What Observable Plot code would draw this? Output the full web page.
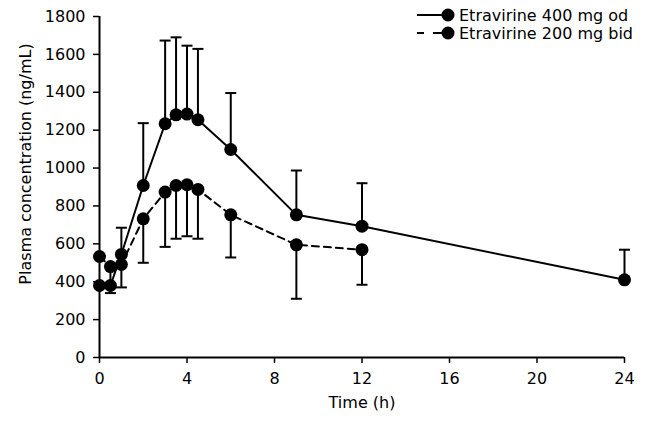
<!DOCTYPE html>
<html>
<head>
<meta charset="utf-8">
<script src="https://cdn.jsdelivr.net/npm/d3@7"></script>
<script src="https://cdn.jsdelivr.net/npm/@observablehq/plot@0.6"></script>
<style>
  body { margin: 0; background: #fff; }
  #wrap { position: relative; width: 646px; height: 421px; font-family: "DejaVu Sans", sans-serif; }
  #legend { position: absolute; left: 410px; top: 0; }
</style>
</head>
<body>
<div id="wrap"></div>
<script>
// ---- data ----
const seriesNames = ["Etravirine 400 mg od", "Etravirine 200 mg bid"];

const times400 = [0, 0.5, 1, 2, 3, 3.5, 4, 4.5, 6, 9, 12, 24];
const conc400 = [380, 380, 544, 908, 1234, 1281, 1285, 1255, 1098, 753, 693, 410];
const upper400 = [null, null, 685, 1237, 1673, 1690, 1646, 1629, 1396, 987, 920, 569];

const times200 = [0, 0.5, 1, 2, 3, 3.5, 4, 4.5, 6, 9, 12];
const conc200 = [533, 480, 491, 732, 873, 908, 912, 887, 753, 595, 569];
const lower200 = [null, 340, 370, 500, 584, 627, 640, 627, 528, 310, 384];

const xTicks = [0, 4, 8, 12, 16, 20, 24];
const yTicks = [0, 200, 400, 600, 800, 1000, 1200, 1400, 1600, 1800];
const xLabel = "Time (h)";
const yLabel = "Plasma concentration (ng/mL)";

// ---- build tables ----
const d400 = times400.map((t, i) => ({t, c: conc400[i], e: upper400[i]}));
const d200 = times200.map((t, i) => ({t, c: conc200[i], e: lower200[i]}));
const e400 = d400.filter(d => d.e != null);
const e200 = d200.filter(d => d.e != null);

const capSymbol = {
  draw(ctx, size) {
    const w = Math.sqrt(size / Math.PI);
    ctx.moveTo(-w, 0);
    ctx.lineTo(w, 0);
  }
};

const chart = Plot.plot({
  width: 646,
  height: 421,
  marginLeft: 99,
  marginRight: 22,
  marginTop: 16,
  marginBottom: 64,
  style: {fontFamily: "DejaVu Sans, sans-serif", fontSize: "16px", color: "#000", background: "#fff"},
  x: {domain: [0, 24]},
  y: {domain: [0, 1800]},
  marks: [
    Plot.axisX({ticks: xTicks, tickFormat: d => String(d), tickSize: 6, tickPadding: 9, label: null, strokeWidth: 1.5}),
    Plot.axisY({ticks: yTicks, tickFormat: d => String(d), tickSize: 6, tickPadding: 8, label: null, strokeWidth: 1.5}),
    Plot.ruleY([0], {strokeWidth: 2}),
    Plot.ruleX([0], {strokeWidth: 2}),
    // error bars
    Plot.ruleX(e400, {x: "t", y1: "c", y2: "e", strokeWidth: 2}),
    Plot.ruleX(e200, {x: "t", y1: "c", y2: "e", strokeWidth: 2}),
    Plot.dot(e400, {x: "t", y: "e", symbol: capSymbol, r: 5.5, stroke: "#000", fill: "none", strokeWidth: 2}),
    Plot.dot(e200, {x: "t", y: "e", symbol: capSymbol, r: 5.5, stroke: "#000", fill: "none", strokeWidth: 2}),
    // lines
    Plot.line(d400, {x: "t", y: "c", stroke: "#000", strokeWidth: 2}),
    Plot.line(d200, {x: "t", y: "c", stroke: "#000", strokeWidth: 2, strokeDasharray: "7,5"}),
    // points
    Plot.dot(d400, {x: "t", y: "c", r: 6.5, fill: "#000", stroke: "none"}),
    Plot.dot(d200, {x: "t", y: "c", r: 6.5, fill: "#000", stroke: "none"}),
    // axis titles
    Plot.text([xLabel], {frameAnchor: "bottom", textAnchor: "middle", text: d => d, dy: 50, fontSize: 16}),
    Plot.text([yLabel], {frameAnchor: "left", textAnchor: "middle", text: d => d, rotate: -90, dx: -74, dy: -23, fontSize: 16})
  ]
});

const wrap = document.getElementById("wrap");
wrap.appendChild(chart);

// ---- legend ----
const leg = d3.select(wrap).append("svg")
  .attr("id", "legend")
  .attr("width", 236)
  .attr("height", 45)
  .style("font-family", "DejaVu Sans, sans-serif")
  .style("font-size", "16px");
const rows = leg.selectAll("g").data(seriesNames).join("g")
  .attr("transform", (d, i) => `translate(0, ${15 + 18 * i})`);
rows.append("line")
  .attr("x1", 7).attr("x2", 38).attr("y1", 0).attr("y2", 0)
  .attr("stroke", "#000").attr("stroke-width", 2)
  .attr("stroke-dasharray", (d, i) => i === 0 ? null : "7,9,20");
rows.append("circle").attr("cx", 38).attr("cy", 0).attr("r", 6.5).attr("fill", "#000");
rows.append("text").attr("x", 49).attr("y", 0).attr("dy", "0.35em").attr("fill", "#000").text(d => d);
</script>
</body>
</html>
